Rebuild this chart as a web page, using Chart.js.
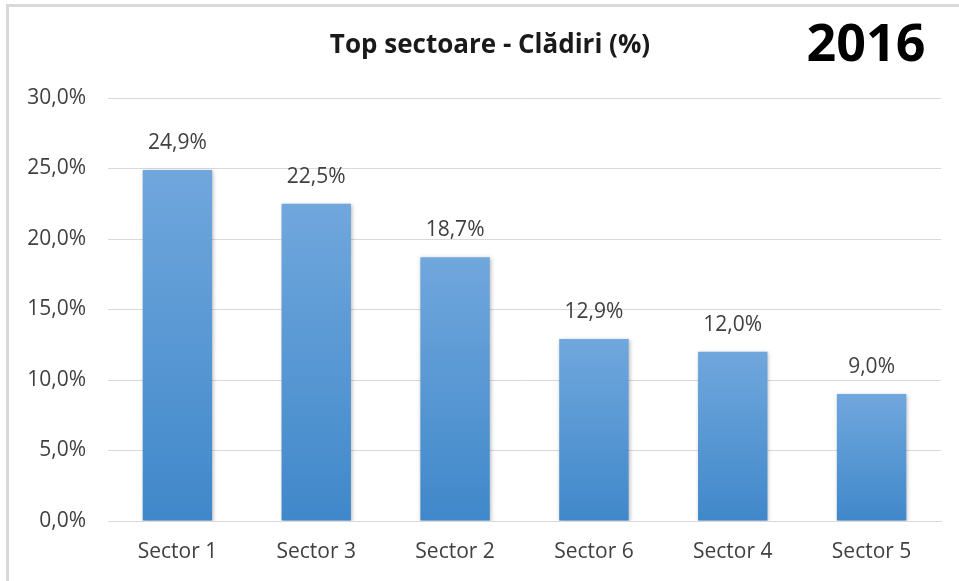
<!DOCTYPE html>
<html>
<head>
<meta charset="utf-8">
<script src="https://cdn.jsdelivr.net/npm/chart.js@4/dist/chart.umd.min.js"></script>
<style>
    html, body { margin: 0; padding: 0; background: #fff; overflow: hidden; }
    #frame {
        position: absolute; left: 6px; top: 4px; width: 1000px; height: 650px;
        border: 3px solid #d9d9d9; box-sizing: border-box;
    }
    #wrap { position: absolute; left: 0; top: 0; width: 959px; height: 581px; }
</style>
</head>
<body>
<div id="frame"></div>
<div id="wrap"><canvas id="chart"></canvas></div>
<script>
// Chart data
const categories = ['Sector 1', 'Sector 3', 'Sector 2', 'Sector 6', 'Sector 4', 'Sector 5'];
const shares = [24.9, 22.5, 18.7, 12.9, 12.0, 9.0];
const yTicks = [0, 5, 10, 15, 20, 25, 30];
const chartTitle = 'Top sectoare - Clădiri (%)';
const yearLabel = '2016';

const textColor = '#404040';
const fontFamily = '"Open Sans", "Noto Sans", sans-serif';

function fmt(v) {
    return v.toFixed(1).replace('.', ',') + '%';
}

// per-bar vertical gradient, lighter at the top
function barFill(context) {
    const chart = context.chart;
    if (!chart.chartArea) return '#5b9bd5';
    const y = chart.scales.y;
    const top = y.getPixelForValue(context.raw);
    const bottom = y.getPixelForValue(0);
    const g = chart.ctx.createLinearGradient(0, top, 0, bottom);
    g.addColorStop(0, '#70a7dd');
    g.addColorStop(1, '#4088ca');
    return g;
}

const headerPlugin = {
    id: 'header',
    afterDraw(chart) {
        const ctx = chart.ctx;
        ctx.save();
        ctx.textBaseline = 'middle';
        ctx.textAlign = 'center';
        ctx.fillStyle = '#1a1a1a';
        ctx.font = 'bold 26px ' + fontFamily;
        ctx.fillText(chartTitle, 490, 46);
        ctx.fillStyle = '#000';
        ctx.font = 'bold 52px ' + fontFamily;
        ctx.fillText(yearLabel, 866, 46);
        ctx.restore();
    }
};

const shadowPlugin = {
    id: 'barShadow',
    beforeDatasetsDraw(chart) {
        const ctx = chart.ctx;
        ctx.save();
        ctx.shadowColor = 'rgba(0,0,0,0.28)';
        ctx.shadowBlur = 4;
        ctx.shadowOffsetX = 1;
        ctx.shadowOffsetY = 1;
    },
    afterDatasetsDraw(chart) {
        chart.ctx.restore();
    }
};

const valueLabels = {
    id: 'valueLabels',
    afterDatasetsDraw(chart) {
        const ctx = chart.ctx;
        const meta = chart.getDatasetMeta(0);
        ctx.save();
        ctx.font = '21px ' + fontFamily;
        ctx.fillStyle = textColor;
        ctx.textAlign = 'center';
        ctx.textBaseline = 'middle';
        meta.data.forEach((bar, i) => {
            ctx.fillText(fmt(shares[i]), bar.x, bar.y - 27);
        });
        ctx.restore();
    }
};

new Chart(document.getElementById('chart'), {
    type: 'bar',
    data: {
        labels: categories,
        datasets: [{
            data: shares,
            backgroundColor: barFill,
            borderWidth: 0,
            barPercentage: 0.5,
            categoryPercentage: 1
        }]
    },
    options: {
        responsive: true,
        maintainAspectRatio: false,
        animation: false,
        devicePixelRatio: 1,
        layout: { padding: { top: 98, right: 18, left: 0, bottom: 0 } },
        plugins: {
            legend: { display: false },
            tooltip: { enabled: false }
        },
        scales: {
            x: {
                grid: { display: false, drawTicks: false },
                border: { color: '#d9d9d9', width: 1 },
                ticks: {
                    color: textColor,
                    font: { family: fontFamily, size: 21 },
                    padding: 18
                },
                afterFit(scale) { scale.height = 60; }
            },
            y: {
                min: 0,
                max: 30,
                afterBuildTicks(scale) {
                    scale.ticks = yTicks.map(v => ({ value: v }));
                },
                grid: { color: '#d9d9d9', lineWidth: 1, drawTicks: false },
                border: { display: false },
                ticks: {
                    color: textColor,
                    font: { family: fontFamily, size: 21 },
                    padding: 22,
                    callback: v => fmt(v)
                },
                afterFit(scale) { scale.width = 108; }
            }
        }
    },
    plugins: [shadowPlugin, valueLabels, headerPlugin]
});
</script>
</body>
</html>
